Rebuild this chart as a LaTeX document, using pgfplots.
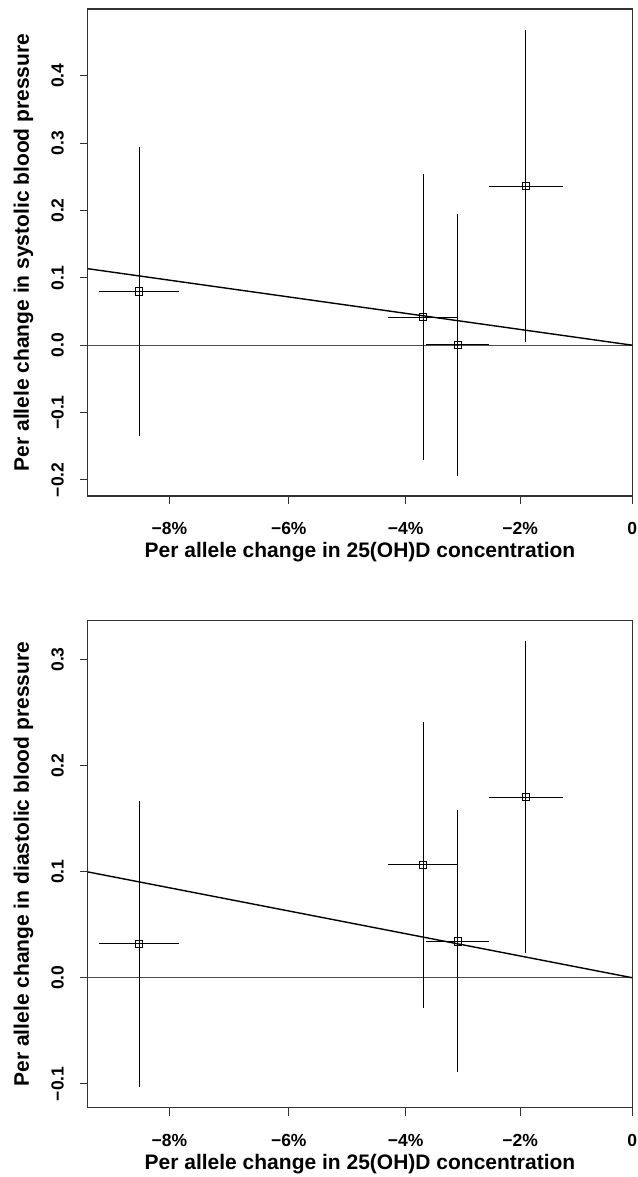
\documentclass[border=0pt]{standalone}
\usepackage{pgfplots}
\pgfplotsset{compat=1.18}
\usepackage{fontspec}
\setmainfont{Liberation Sans}
% x values are ln(1 + per-allele change), as in the reference (log scale)
\pgfplotstableread{
x y ex ey
-0.08886 0.0797 0.0072 0.2140
-0.03767 0.0419 0.00625 0.2118
-0.03147 0.0005 0.0057 0.1947
-0.01916 0.2364 0.00667 0.2310
}\sysdata
\pgfplotstableread{
x y ex ey
-0.08886 0.0319 0.0072 0.1350
-0.03767 0.1064 0.00625 0.1346
-0.03147 0.0342 0.0057 0.1235
-0.01916 0.1703 0.00667 0.1467
}\diadata
\begin{document}
\begin{tikzpicture}
\useasboundingbox (-87.7pt,-681pt) rectangle (549.3pt,496pt);
\pgfplotsset{
 myax/.style={
  scale only axis, width=544.6pt, height=487pt,
  xmin=-0.0981, xmax=0,
  scaled x ticks=false, scaled y ticks=false,
  axis line style={line width=1.1pt, color=black!80},
  every tick/.style={line width=1.0pt, color=black!80},
  tick align=outside, major tick length=8pt,
  xtick pos=left, ytick pos=left,
  xtick={-0.083382,-0.061875,-0.040822,-0.020203,0},
  xticklabels={−8\%,−6\%,−4\%,−2\%,0},
  xticklabel style={font=\fontsize{17.5}{17.5}\selectfont\bfseries, anchor=base, yshift=-31pt},
  yticklabel style={font=\fontsize{17.5}{17.5}\selectfont\bfseries, xshift=-16pt, rotate=90, anchor=base},
  xlabel style={font=\fontsize{21}{21}\selectfont\bfseries, at={(axis description cs:0.5,-0.126)}, anchor=base},
  ylabel style={font=\fontsize{21}{21}\selectfont\bfseries, at={(axis description cs:-0.108,0.5)}, rotate=0, anchor=base},
  xlabel={Per allele change in 25(OH)D concentration},
  error bars/y dir=both, error bars/y explicit,
  error bars/x dir=both, error bars/x explicit,
  error bars/error mark=none,
  error bars/error bar style={line width=0.9pt, black},
 },
}
\begin{axis}[myax,
  ymin=-0.2239, ymax=0.4992,
  ytick={-0.2,-0.1,0,0.1,0.2,0.3,0.4},
  yticklabels={−0.2,−0.1,0.0,0.1,0.2,0.3,0.4},
  ylabel={Per allele change in systolic blood pressure}]
\addplot[black!70, line width=1pt, forget plot] coordinates {(-0.0981,0) (0,0)};
\addplot[black, line width=1.4pt, forget plot] coordinates {(-0.0981,0.1136) (0,0)};
\addplot[only marks, mark=square, mark size=3.6pt, mark options={black, line width=0.9pt, fill=none}]
  table[x=x, y=y, x error=ex, y error=ey] {\sysdata};
\end{axis}
\begin{axis}[myax, at={(0pt,-611.7pt)},
  ymin=-0.1225, ymax=0.3366,
  ytick={-0.1,0,0.1,0.2,0.3},
  yticklabels={−0.1,0.0,0.1,0.2,0.3},
  ylabel={Per allele change in diastolic blood pressure}]
\addplot[black!70, line width=1pt, forget plot] coordinates {(-0.0981,0) (0,0)};
\addplot[black, line width=1.4pt, forget plot] coordinates {(-0.0981,0.0998) (0,0)};
\addplot[only marks, mark=square, mark size=3.6pt, mark options={black, line width=0.9pt, fill=none}]
  table[x=x, y=y, x error=ex, y error=ey] {\diadata};
\end{axis}
\end{tikzpicture}
\end{document}
